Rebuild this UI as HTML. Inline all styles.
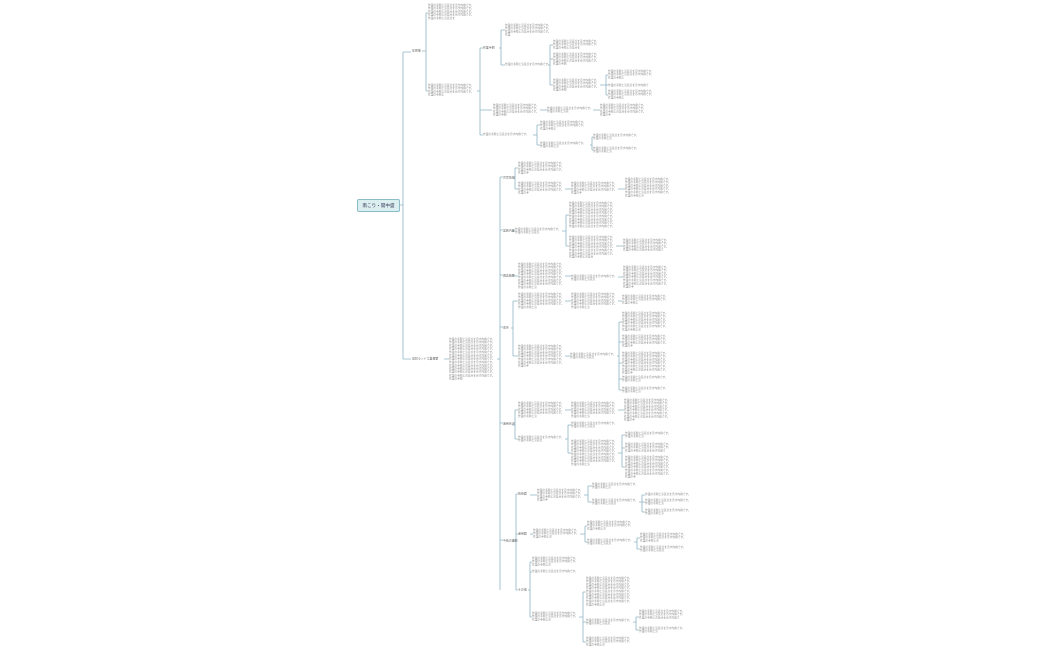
<!DOCTYPE html>
<html><head><meta charset="utf-8"><style>
html,body{margin:0;padding:0;background:#fff;width:1050px;height:650px;overflow:hidden;position:relative;font-family:"Liberation Sans","Noto Sans CJK JP",sans-serif}
.t{position:absolute;font-size:6px;line-height:7.33px;color:#8a8a8a;word-break:break-all;width:105px!important;transform:scale(.45);transform-origin:0 0}
.l{position:absolute;font-size:6.5px!important;line-height:8px;color:#666;white-space:nowrap;transform:scale(.45);transform-origin:0 0}
.root{position:absolute;left:357px;top:199px;width:41px;height:11px;background:#dceff0;border:1px solid #8bbcc8;border-radius:2px;font-size:4.6px;line-height:11px;text-align:center;color:#335}
svg{position:absolute;left:0;top:0}
</style></head><body>
<svg width="1050" height="650" fill="none" stroke="#8fb5c4" stroke-width="0.8">
<path d="M399 205H403M403 52V359M403 52H411M403 359H411"/>
<path d="M422 51H426M426 13V91M426 13H428M426 91H428"/>
<path d="M477 91H480M480 48V135M480 48H483M480 110H492M480 135H483"/>
<path d="M499 48H501M501 30V65M501 30H505M501 65H505"/>
<path d="M548 65H550M550 45V85M550 45H553M550 59H553M550 85H553"/>
<path d="M600 85H606M606 75V95M606 75H608M606 85H608M606 95H608"/>
<path d="M540 110H547M593 110H600"/>
<path d="M533 135H537M537 125V145M537 125H540M537 145H540"/>
<path d="M590 145H592M592 137V150M592 137H593M592 150H593"/>
<path d="M444 359H449M497 359H500M500 177V590M500 177H503M500 230H503M500 275H503M500 327H503M500 423H503M500 540H503"/>
<path d="M513 178H515M515 168V189M515 168H518M515 189H518M565 189H571M618 189H625"/>
<path d="M512 231H515M562 231H566M566 215V246M566 215H569M566 246H569M616 246H623"/>
<path d="M512 276H518M565 276H571M618 277H623"/>
<path d="M511 328H513M513 301V356M513 301H518M513 356H518M565 301H571M618 301H622"/>
<path d="M565 356H570M617 356H619M619 322V390M619 322H622M619 342H622M619 363H622M619 379H622M619 390H622"/>
<path d="M512 425H515M515 410V439M515 410H518M515 439H518M565 410H571M618 410H624"/>
<path d="M565 439H568M568 425V453M568 425H571M568 453H571M618 453H622M622 435V467M622 435H625M622 448H625M622 467H625"/>
<path d="M512 541H516M516 494V590M516 494H518M516 534H518M516 590H518"/>
<path d="M530 495H537M584 495H588M588 486V502M588 486H592M588 502H592M639 502H642M642 495V512M642 495H645M642 502H645M642 512H645"/>
<path d="M530 534H533M580 534H585M585 526V542M585 526H587M585 542H587M634 542H637M637 538V549M637 538H640M637 549H640"/>
<path d="M528 590H530M530 562V617M530 562H532M530 572H532M530 617H532M579 617H583M583 592V642M583 592H586M583 622H586M583 642H586M633 622H636M636 617V630M636 617H639M636 630H639"/>
</svg>
<div class="root">南こり・開中盛</div>
<div class="l" style="left:412px;top:49px">圧倒播</div>
<div class="l" style="left:412px;top:357px">最初ランド工業概要</div>

<div class="t" style="left:428px;top:4px">作業の手順と注意点を示す内容です。作業の手順と注意点を示す内容です。作業の手順と注意点を示す内容です。作業の手順と注意点を示す内容です。作業の手順と注意点を</div>
<div class="t" style="left:428px;top:84px">作業の手順と注意点を示す内容です。作業の手順と注意点を示す内容です。作業の手順と注意点を示す内容です。作業の手順と</div>
<div class="l" style="left:483px;top:46px">作業手順</div>
<div class="t" style="left:493px;top:104px">作業の手順と注意点を示す内容です。作業の手順と注意点を示す内容です。作業の手順と注意点を示す内容です。作業の手順</div>
<div class="t" style="left:483px;top:133px">作業の手順と注意点を示す内容です。</div>
<div class="t" style="left:505px;top:24px">作業の手順と注意点を示す内容です。作業の手順と注意点を示す内容です。作業の手順と注意点を示す内容です。作業</div>
<div class="t" style="left:505px;top:63px">作業の手順と注意点を示す内容です。</div>
<div class="t" style="left:553px;top:40px">作業の手順と注意点を示す内容です。作業の手順と注意点を示す内容です。作業の手順と注意点を</div>
<div class="t" style="left:553px;top:53px">作業の手順と注意点を示す内容です。作業の手順と注意点を示す内容です。作業の手順と注意点を示す内容です。作業の手順</div>
<div class="t" style="left:553px;top:79px">作業の手順と注意点を示す内容です。作業の手順と注意点を示す内容です。作業の手順と注意点を示す内容です。作業の手順</div>
<div class="t" style="left:608px;top:70px">作業の手順と注意点を示す内容です。作業の手順と注意点を示す内容です。作業の手順と</div>
<div class="t" style="left:608px;top:84px">作業の手順と注意点を示す内容で</div>
<div class="t" style="left:608px;top:90px">作業の手順と注意点を示す内容です。作業の手順と注意点を示す内容です。作業の手順と</div>
<div class="t" style="left:547px;top:107px">作業の手順と注意点を示す内容です。作業の手順と注意</div>
<div class="t" style="left:600px;top:104px">作業の手順と注意点を示す内容です。作業の手順と注意点を示す内容です。作業の手順と注意点を示す内容です。作業の手</div>
<div class="t" style="left:540px;top:121px">作業の手順と注意点を示す内容です。作業の手順と注意点を示す内容です。作業の手順と</div>
<div class="t" style="left:540px;top:142px">作業の手順と注意点を示す内容です。作業の手順と注</div>
<div class="t" style="left:593px;top:134px">作業の手順と注意点を示す内容です。作業の手順と注</div>
<div class="t" style="left:593px;top:147px">作業の手順と注意点を示す内容です。作業の手順と注</div>

<div class="t" style="left:449px;top:338px">作業の手順と注意点を示す内容です。作業の手順と注意点を示す内容です。作業の手順と注意点を示す内容です。作業の手順と注意点を示す内容です。作業の手順と注意点を示す内容です。作業の手順と注意点を示す内容です。作業の手順と注意点を示す内容です。作業の手順と注意点を示す内容です。作業の手順と注意点を示す内容です。作業の手順と注意点を示す内容です。作業の手順と注意点を示す内容です。作業の手順と注意点を示す内容です。作業の手順</div>

<div class="l" style="left:503px;top:176px">背景情報</div>
<div class="t" style="left:518px;top:162px">作業の手順と注意点を示す内容です。作業の手順と注意点を示す内容です。作業の手順と注意点を示す内容です。作業の手</div>
<div class="t" style="left:518px;top:182px">作業の手順と注意点を示す内容です。作業の手順と注意点を示す内容です。作業の手順と注意点を示す内容です。作業の手</div>
<div class="t" style="left:571px;top:182px">作業の手順と注意点を示す内容です。作業の手順と注意点を示す内容です。作業の手順と注意点を示す内容です。作業の手</div>
<div class="t" style="left:625px;top:178px">作業の手順と注意点を示す内容です。作業の手順と注意点を示す内容です。作業の手順と注意点を示す内容です。作業の手順と注意点を示す内容です。作業の手順と注意点を示す内容です。作業の手順と注</div>

<div class="l" style="left:503px;top:229px">実施内容</div>
<div class="t" style="left:515px;top:228px">作業の手順と注意点を示す内容です。作業の手順と注意点</div>
<div class="t" style="left:569px;top:202px">作業の手順と注意点を示す内容です。作業の手順と注意点を示す内容です。作業の手順と注意点を示す内容です。作業の手順と注意点を示す内容です。作業の手順と注意点を示す内容です。作業の手順と注意点を示す内容です。作業の手順と注意点を示す内容です。作業の手順と注意点を示す内容です。</div>
<div class="t" style="left:569px;top:236px">作業の手順と注意点を示す内容です。作業の手順と注意点を示す内容です。作業の手順と注意点を示す内容です。作業の手順と注意点を示す内容です。作業の手順と注意点を示す内容です。作業の手順と注意点を示す内容です。作業の手順と注意点</div>
<div class="t" style="left:623px;top:239px">作業の手順と注意点を示す内容です。作業の手順と注意点を示す内容です。作業の手順と注意点を示す内容です。作業の手順と注意点を示す内容で</div>

<div class="l" style="left:503px;top:274px">調査結果</div>
<div class="t" style="left:518px;top:263px">作業の手順と注意点を示す内容です。作業の手順と注意点を示す内容です。作業の手順と注意点を示す内容です。作業の手順と注意点を示す内容です。作業の手順と注意点を示す内容です。作業の手順と注意点を示す内容です。作業の手順と注意点を示す内容です。作業の手順と注</div>
<div class="t" style="left:571px;top:275px">作業の手順と注意点を示す内容です。作業の手順と注意点</div>
<div class="t" style="left:623px;top:266px">作業の手順と注意点を示す内容です。作業の手順と注意点を示す内容です。作業の手順と注意点を示す内容です。作業の手順と注意点を示す内容です。作業の手順と注意点を示す内容です。作業の手順と注意点を示す内容です。作業の手</div>

<div class="l" style="left:503px;top:326px">改善</div>
<div class="t" style="left:518px;top:293px">作業の手順と注意点を示す内容です。作業の手順と注意点を示す内容です。作業の手順と注意点を示す内容です。作業の手順と注意点を示す内容です。作業の手順と注</div>
<div class="t" style="left:571px;top:293px">作業の手順と注意点を示す内容です。作業の手順と注意点を示す内容です。作業の手順と注意点を示す内容です。作業の手順と注意点を示す内容です。作業の手順と注</div>
<div class="t" style="left:622px;top:295px">作業の手順と注意点を示す内容です。作業の手順と注意点を示す内容です。作業の手順と</div>
<div class="t" style="left:518px;top:345px">作業の手順と注意点を示す内容です。作業の手順と注意点を示す内容です。作業の手順と注意点を示す内容です。作業の手順と注意点を示す内容です。作業の手順と注意点を示す内容です。作業の手順と注意点を示す内容です。作業の手</div>
<div class="t" style="left:570px;top:353px">作業の手順と注意点を示す内容です。作業の手順と注意点</div>
<div class="t" style="left:622px;top:312px">作業の手順と注意点を示す内容です。作業の手順と注意点を示す内容です。作業の手順と注意点を示す内容です。作業の手順と注意点を示す内容です。作業の手順と注意点を示す内容です。作業の手順と注</div>
<div class="t" style="left:622px;top:335px">作業の手順と注意点を示す内容です。作業の手順と注意点を示す内容です。作業の手順と注意点を示す内容です。作業の手</div>
<div class="t" style="left:622px;top:352px">作業の手順と注意点を示す内容です。作業の手順と注意点を示す内容です。作業の手順と注意点を示す内容です。作業の手順と注意点を示す内容です。作業の手順と注意点を示す内容です。作業の手順と注意点を示す内容です。作業の手</div>
<div class="t" style="left:622px;top:376px">作業の手順と注意点を示す内容です。作業の手順と注</div>
<div class="t" style="left:622px;top:387px">作業の手順と注意点を示す内容です。作業の手順と注</div>

<div class="l" style="left:503px;top:422px">運用状況</div>
<div class="t" style="left:518px;top:402px">作業の手順と注意点を示す内容です。作業の手順と注意点を示す内容です。作業の手順と注意点を示す内容です。作業の手順と注意点を示す内容です。作業の手順と注</div>
<div class="t" style="left:571px;top:402px">作業の手順と注意点を示す内容です。作業の手順と注意点を示す内容です。作業の手順と注意点を示す内容です。作業の手順と注意点を示す内容です。作業の手順と注</div>
<div class="t" style="left:624px;top:399px">作業の手順と注意点を示す内容です。作業の手順と注意点を示す内容です。作業の手順と注意点を示す内容です。作業の手順と注意点を示す内容です。作業の手順と注意点を示す内容です。作業の手順と注意点を示す内容です。作業の手</div>
<div class="t" style="left:518px;top:436px">作業の手順と注意点を示す内容です。作業の手順と注意点</div>
<div class="t" style="left:571px;top:422px">作業の手順と注意点を示す内容です。作業の手順と注意点</div>
<div class="t" style="left:571px;top:440px">作業の手順と注意点を示す内容です。作業の手順と注意点を示す内容です。作業の手順と注意点を示す内容です。作業の手順と注意点を示す内容です。作業の手順と注意点を示す内容です。作業の手順と注意点を示す内容です。作業の手順と注意点を示す内容です。作業の手順と注</div>
<div class="t" style="left:625px;top:432px">作業の手順と注意点を示す内容です。作業の手順と注</div>
<div class="t" style="left:625px;top:443px">作業の手順と注意点を示す内容です。作業の手順と注意点を示す内容です。作業の手順と注意点を示す内容で</div>
<div class="t" style="left:625px;top:456px">作業の手順と注意点を示す内容です。作業の手順と注意点を示す内容です。作業の手順と注意点を示す内容です。作業の手順と注意点を示す内容です。作業の手順と注意点を示す内容です。作業の手順と注意点を示す内容です。作業の手</div>

<div class="l" style="left:503px;top:539px">今後の課題</div>
<div class="l" style="left:518px;top:492px">技術面</div>
<div class="t" style="left:537px;top:489px">作業の手順と注意点を示す内容です。作業の手順と注意点を示す内容です。作業の手順と注意点を示す内容です。作業の手</div>
<div class="t" style="left:592px;top:483px">作業の手順と注意点を示す内容です。作業の手順と注</div>
<div class="t" style="left:592px;top:499px">作業の手順と注意点を示す内容です。作業の手順と注意点</div>
<div class="t" style="left:645px;top:493px">作業の手順と注意点を示す内容です。</div>
<div class="t" style="left:645px;top:499px">作業の手順と注意点を示す内容です。作業の手順と注</div>
<div class="t" style="left:645px;top:509px">作業の手順と注意点を示す内容です。作業の手順と注</div>
<div class="l" style="left:518px;top:532px">運用面</div>
<div class="t" style="left:533px;top:529px">作業の手順と注意点を示す内容です。作業の手順と注意点を示す内容です。作業の手順と注</div>
<div class="t" style="left:587px;top:521px">作業の手順と注意点を示す内容です。作業の手順と注意点を示す内容です。作業の手順と注</div>
<div class="t" style="left:587px;top:539px">作業の手順と注意点を示す内容です。作業の手順と注意点</div>
<div class="t" style="left:640px;top:533px">作業の手順と注意点を示す内容です。作業の手順と注意点を示す内容です。作業の手順と注</div>
<div class="t" style="left:640px;top:546px">作業の手順と注意点を示す内容です。作業の手順と注意点</div>
<div class="l" style="left:518px;top:588px">その他</div>
<div class="t" style="left:532px;top:557px">作業の手順と注意点を示す内容です。作業の手順と注意点を示す内容です。作業の手順と注</div>
<div class="t" style="left:532px;top:570px">作業の手順と注意点を示す内容です。</div>
<div class="t" style="left:532px;top:612px">作業の手順と注意点を示す内容です。作業の手順と注意点を示す内容です。作業の手順と注</div>
<div class="t" style="left:586px;top:577px">作業の手順と注意点を示す内容です。作業の手順と注意点を示す内容です。作業の手順と注意点を示す内容です。作業の手順と注意点を示す内容です。作業の手順と注意点を示す内容です。作業の手順と注意点を示す内容です。作業の手順と注意点を示す内容です。作業の手順と注意点を示す内容です。作業の手順と注</div>
<div class="t" style="left:586px;top:619px">作業の手順と注意点を示す内容です。作業の手順と注意点</div>
<div class="t" style="left:586px;top:637px">作業の手順と注意点を示す内容です。作業の手順と注意点を示す内容です。作業の手順と注</div>
<div class="t" style="left:639px;top:610px">作業の手順と注意点を示す内容です。作業の手順と注意点を示す内容です。作業の手順と注意点を示す内容で</div>
<div class="t" style="left:639px;top:627px">作業の手順と注意点を示す内容です。作業の手順と注</div>
</body></html>
